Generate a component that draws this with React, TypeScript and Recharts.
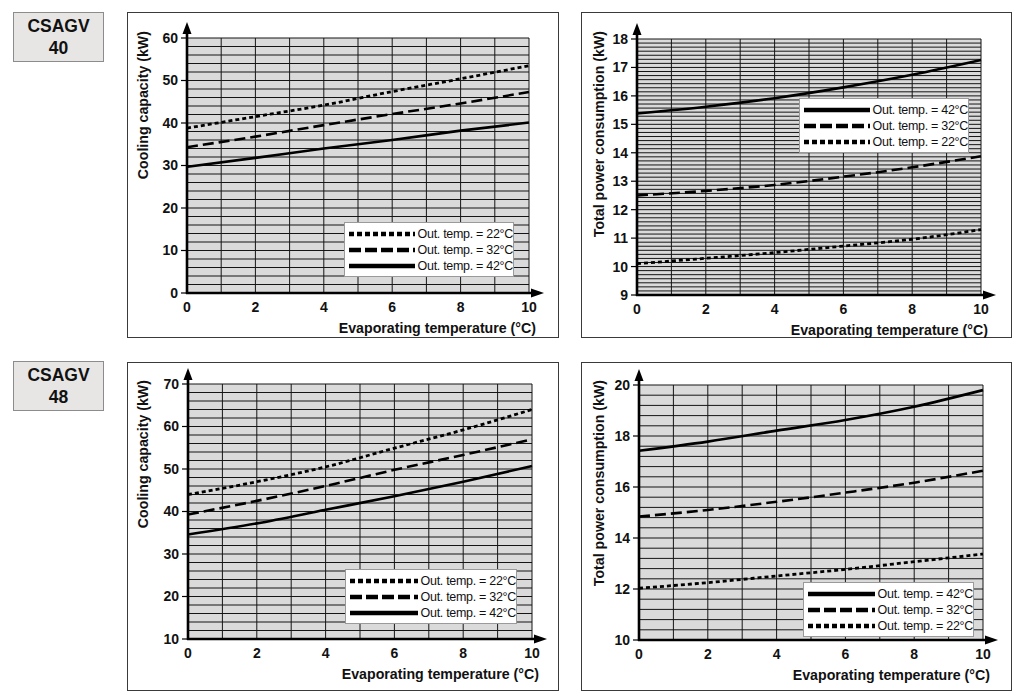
import React from 'react';
import * as RC from 'recharts';
const { LineChart, Line, XAxis, YAxis, CartesianGrid, Legend } = RC as any;

// ---------- data ----------
const evapTemps = [0, 2, 4, 6, 8, 10];
const xTicks = [0, 2, 4, 6, 8, 10];

// CSAGV 40 cooling capacity (kW)
const cap40_22 = [38.8, 41.5, 44.2, 47.4, 50.4, 53.5];
const cap40_32 = [34.3, 36.8, 39.5, 42.1, 44.6, 47.3];
const cap40_42 = [29.7, 31.8, 34.0, 36.0, 38.2, 40.1];
const cap40Ticks = [0, 10, 20, 30, 40, 50, 60];

// CSAGV 40 total power consumption (kW)
const pow40_42 = [15.38, 15.62, 15.92, 16.3, 16.74, 17.26];
const pow40_32 = [12.5, 12.66, 12.87, 13.16, 13.49, 13.88];
const pow40_22 = [10.1, 10.29, 10.49, 10.72, 10.96, 11.3];
const pow40Ticks = [9, 10, 11, 12, 13, 14, 15, 16, 17, 18];

// CSAGV 48 cooling capacity (kW)
const cap48_22 = [44.0, 47.0, 50.5, 54.9, 59.2, 64.0];
const cap48_32 = [39.3, 42.5, 46.0, 49.8, 53.3, 57.0];
const cap48_42 = [34.6, 37.2, 40.4, 43.6, 47.0, 50.7];
const cap48Ticks = [10, 20, 30, 40, 50, 60, 70];

// CSAGV 48 total power consumption (kW)
const pow48_42 = [17.42, 17.78, 18.21, 18.63, 19.15, 19.8];
const pow48_32 = [14.84, 15.1, 15.42, 15.78, 16.17, 16.64];
const pow48_22 = [12.03, 12.25, 12.51, 12.77, 13.07, 13.37];
const pow48Ticks = [10, 12, 14, 16, 18, 20];

const legend22 = 'Out. temp. = 22°C';
const legend32 = 'Out. temp. = 32°C';
const legend42 = 'Out. temp. = 42°C';
const modelLabels = ['CSAGV\n40', 'CSAGV\n48'];
const xTitle = 'Evaporating temperature (°C)';
const capTitle = 'Cooling capacity (kW)';
const powTitle = 'Total power consumption (kW)';

// ---------- helpers ----------
const FONT = '"Liberation Sans", Arial, Helvetica, sans-serif';

function steps(min: number, max: number, n: number) {
  const out: number[] = [];
  for (let i = 0; i <= n; i++) out.push(min + ((max - min) * i) / n);
  return out;
}
const vGrid = steps(0, 10, 10);

const STYLE: Record<string, { dash?: string; w: number; ldash?: string; lw: number }> = {
  t22: { dash: '4 3', w: 2.8, ldash: '5 3', lw: 4.5 },
  t32: { dash: '11 5', w: 2.6, ldash: '12 4', lw: 4.5 },
  t42: { w: 2.6, lw: 4.5 },
};

function Decor({ yTitle, titleDX, titleDY }: { yTitle: string; titleDX: number; titleDY: number }) {
  const pa = (RC as any).usePlotArea();
  if (!pa) return null;
  const { x, y, width, height } = pa;
  const by = y + height;
  const rx = x + width;
  return (
    <g>
      <line x1={x} y1={by + 1} x2={x} y2={y - 5} stroke="#000" strokeWidth={2.6} />
      <polygon points={`${x - 4.5},${y - 4} ${x + 4.5},${y - 4} ${x},${y - 16}`} fill="#000" />
      <line x1={x - 1} y1={by} x2={rx + 4} y2={by} stroke="#000" strokeWidth={2.6} />
      <polygon points={`${rx + 2},${by - 4.5} ${rx + 2},${by + 4.5} ${rx + 15},${by}`} fill="#000" />
      <text
        transform={`translate(${x + titleDX},${y + titleDY}) rotate(-90)`}
        textAnchor="end"
        dominantBaseline="central"
        fontFamily={FONT}
        fontWeight="bold"
        fontSize={14.2}
        fill="#111"
      >
        {yTitle}
      </text>
      <text
        x={rx + 7}
        y={by + 35}
        textAnchor="end"
        dominantBaseline="central"
        fontFamily={FONT}
        fontWeight="bold"
        fontSize={14.2}
        fill="#111"
      >
        {xTitle}
      </text>
    </g>
  );
}

function LegendBox({ items, width }: { items: { key: string; label: string }[]; width: number }) {
  return (
    <div
      style={{
        background: '#fff',
        border: '1px solid #9a9a9a',
        width,
        boxSizing: 'border-box',
        padding: '3px 0 2px 4px',
        fontFamily: FONT,
        fontSize: 12.5,
        color: '#111',
      }}
    >
      {items.map((it) => {
        const s = STYLE[it.key];
        return (
          <div key={it.key} style={{ display: 'flex', alignItems: 'center', height: 16 }}>
            <svg width={71} height={8} style={{ marginRight: 3 }}>
              <line x1={0} y1={4} x2={69} y2={4} stroke="#000" strokeWidth={s.lw} strokeDasharray={s.ldash} />
            </svg>
            <span style={{ whiteSpace: 'nowrap', letterSpacing: -0.3 }}>{it.label}</span>
          </div>
        );
      })}
    </div>
  );
}

type PanelProps = {
  fx: number; fy: number; fw: number; fh: number;
  margin: { top: number; right: number; bottom: number; left: number };
  yDomain: [number, number];
  yTicks: number[];
  hGrid: number[];
  series: { key: string; values: number[]; label: string }[];
  legendPos: { left: number; top: number; width: number };
  yTitle: string;
  titleDX: number;
  titleDY: number;
};

function Panel(p: PanelProps) {
  const data = evapTemps.map((x, i) => {
    const row: any = { x };
    p.series.forEach((s) => (row[s.key] = s.values[i]));
    return row;
  });
  const tickStyle = { fontFamily: FONT, fontWeight: 'bold', fontSize: 14, fill: '#111' };
  return (
    <div
      style={{
        position: 'absolute',
        left: p.fx,
        top: p.fy,
        width: p.fw,
        height: p.fh,
        border: '1px solid #3a3a3a',
        boxSizing: 'border-box',
        background: '#fff',
      }}
    >
      <div style={{ position: 'absolute', left: -1, top: -1 }}>
        <LineChart width={p.fw} height={p.fh} data={data} margin={p.margin}>
          <CartesianGrid
            horizontalValues={p.hGrid}
            verticalValues={vGrid}
            fill="#dadada"
            fillOpacity={1}
            stroke="#151515"
            strokeWidth={1}
          />
          <XAxis
            dataKey="x"
            type="number"
            domain={[0, 10]}
            ticks={xTicks}
            axisLine={false}
            tickLine={false}
            tickSize={0}
            tickMargin={9}
            height={30}
            tick={tickStyle}
            interval={0}
          />
          <YAxis
            type="number"
            domain={p.yDomain}
            ticks={p.yTicks}
            axisLine={false}
            tickLine={{ stroke: '#000', strokeWidth: 1.2 }}
            tickSize={6}
            tickMargin={3}
            width={45}
            tick={tickStyle}
            interval={0}
            allowDataOverflow
          />
          {p.series.map((s) => (
            <Line
              key={s.key}
              dataKey={s.key}
              name={s.label}
              type="monotone"
              stroke="#000"
              strokeWidth={STYLE[s.key].w}
              strokeDasharray={STYLE[s.key].dash}
              dot={false}
              activeDot={false}
              isAnimationActive={false}
            />
          ))}
          <Legend
            layout="vertical"
            align="center"
            verticalAlign="middle"
            wrapperStyle={{ left: p.legendPos.left, top: p.legendPos.top, width: p.legendPos.width }}
            content={() => (
              <LegendBox items={p.series.map((s) => ({ key: s.key, label: s.label }))} width={p.legendPos.width} />
            )}
          />
          <Decor yTitle={p.yTitle} titleDX={p.titleDX} titleDY={p.titleDY} />
        </LineChart>
      </div>
    </div>
  );
}

function ModelLabel({ x, y, text }: { x: number; y: number; text: string }) {
  return (
    <div
      style={{
        position: 'absolute',
        left: x,
        top: y,
        width: 91,
        height: 50,
        boxSizing: 'border-box',
        border: '1.5px solid #8c8c8c',
        background: '#e8e5e5',
        fontFamily: FONT,
        fontWeight: 'bold',
        fontSize: 17.5,
        color: '#111',
        textAlign: 'center',
        lineHeight: '22px',
        paddingTop: 2,
        whiteSpace: 'pre-line',
      }}
    >
      {text}
    </div>
  );
}

export default function App() {
  return (
    <div style={{ position: 'absolute', left: 0, top: 0, width: 1024, height: 699, background: '#fff', overflow: 'hidden' }}>
      <ModelLabel x={13} y={12} text={modelLabels[0]} />
      <ModelLabel x={13} y={361} text={modelLabels[1]} />

      <Panel
        fx={127} fy={12} fw={432} fh={326}
        margin={{ top: 26, right: 30, bottom: 15, left: 15 }}
        yDomain={[0, 60]}
        yTicks={cap40Ticks}
        hGrid={steps(0, 60, 30)}
        series={[
          { key: 't22', values: cap40_22, label: legend22 },
          { key: 't32', values: cap40_32, label: legend32 },
          { key: 't42', values: cap40_42, label: legend42 },
        ]}
        legendPos={{ left: 217, top: 210, width: 170 }}
        yTitle={capTitle}
        titleDX={-44}
        titleDY={-7}
      />
      <Panel
        fx={581} fy={12} fw={431} fh={326}
        margin={{ top: 27, right: 31, bottom: 13, left: 11 }}
        yDomain={[9, 18]}
        yTicks={pow40Ticks}
        hGrid={steps(9, 18, 63)}
        series={[
          { key: 't42', values: pow40_42, label: legend42 },
          { key: 't32', values: pow40_32, label: legend32 },
          { key: 't22', values: pow40_22, label: legend22 },
        ]}
        legendPos={{ left: 218, top: 86, width: 170 }}
        yTitle={powTitle}
        titleDX={-38}
        titleDY={-8}
      />
      <Panel
        fx={127} fy={362} fw={432} fh={329}
        margin={{ top: 22, right: 27, bottom: 22, left: 16 }}
        yDomain={[10, 70]}
        yTicks={cap48Ticks}
        hGrid={steps(10, 70, 30)}
        series={[
          { key: 't22', values: cap48_22, label: legend22 },
          { key: 't32', values: cap48_32, label: legend32 },
          { key: 't42', values: cap48_42, label: legend42 },
        ]}
        legendPos={{ left: 218, top: 207, width: 172 }}
        yTitle={capTitle}
        titleDX={-45}
        titleDY={-4}
      />
      <Panel
        fx={581} fy={362} fw={431} fh={329}
        margin={{ top: 23, right: 29, bottom: 21, left: 13 }}
        yDomain={[10, 20]}
        yTicks={pow48Ticks}
        hGrid={steps(10, 20, 25)}
        series={[
          { key: 't42', values: pow48_42, label: legend42 },
          { key: 't32', values: pow48_32, label: legend32 },
          { key: 't22', values: pow48_22, label: legend22 },
        ]}
        legendPos={{ left: 222, top: 220, width: 171 }}
        yTitle={powTitle}
        titleDX={-40}
        titleDY={-5}
      />
    </div>
  );
}
